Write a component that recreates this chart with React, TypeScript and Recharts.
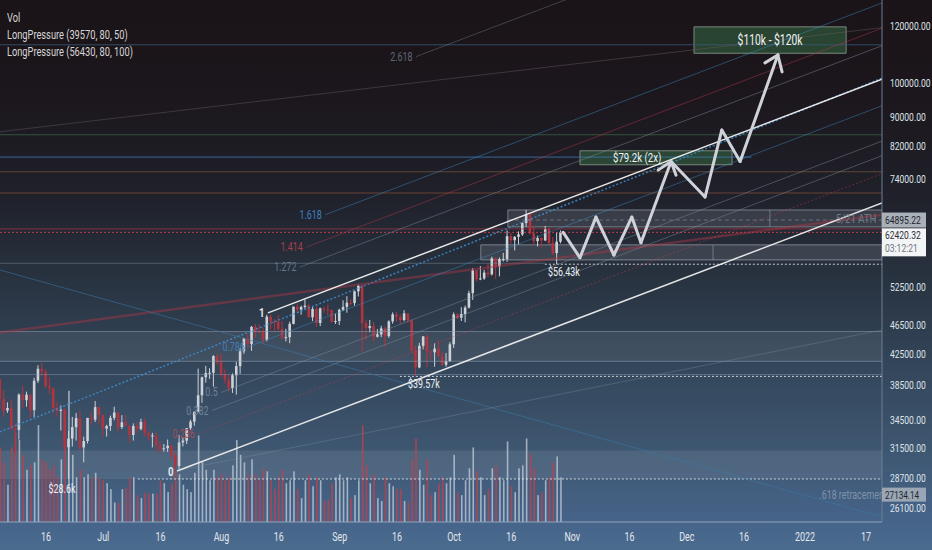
import React from 'react';
import { ComposedChart, Bar, XAxis, YAxis, ReferenceLine, ReferenceArea, ReferenceDot } from 'recharts';

const W = 932;
const H = 550;
const FONT = 'Roboto, "Noto Sans", "DejaVu Sans", sans-serif';
const SX = 0.74;

// day index counted from 2021-06-16; first candle is 2021-06-04
const FIRST_DAY = -12;

const opens = [
  39200, 36850, 35520, 35800, 33550, 33400, 37350, 36700, 37340, 35550, 39020, 40530, 40160, 38350, 38100, 35820, 35480, 35600, 31620, 32500, 33700, 34680, 31600, 32250, 34700, 34500, 35900,
  35040, 33540, 33820, 34700, 35300, 33700, 34220, 33860, 32870, 33810, 33510, 34250, 33100, 32720, 32820, 31780, 31420, 31520, 31780, 30840, 29800, 32110, 32290, 33590, 34290, 35380, 37270, 39460, 40000, 40020, 42200,
  41460, 39850, 39150, 38150, 39720, 40870, 42830, 44610, 43830, 46290, 45590, 45550, 44430, 47800, 47100, 47050, 45990, 44690, 44800, 46720, 49340, 48870, 49290, 49500, 47700, 48990, 46850, 49070, 48900, 48800, 47020,
  47150, 48850, 49300, 49950, 49900, 51800, 52700, 46850, 46100, 46400, 44850, 45200, 46060, 44950, 47100, 48150, 47770, 47300, 48300, 47250, 43000, 40700, 43580, 44900, 42840, 42700, 43200, 42200, 41050, 41520,
  43800, 48150, 47650, 48200, 49200, 51500, 55340, 53800, 53950, 54950, 54650, 57480, 56000, 57350, 57370, 61670, 60880, 61530, 62020, 64270, 66000, 62200, 60700, 61300, 60850, 63080, 60330, 58450, 60600,
];
const highs = [
  39300, 37900, 36450, 36800, 34070, 37500, 38400, 37700, 37450, 39400, 41000, 41300, 40500, 39500, 38200, 36450, 36100, 35750, 33300, 34800, 35250, 35500, 32700, 34700, 35300, 36600, 36000,
  35040, 33950, 34950, 35950, 35300, 35000, 35050, 33900, 34100, 34250, 34600, 34650, 33300, 33100, 33150, 32250, 31950, 32400, 31900, 31050, 32850, 32600, 33600, 34500, 35400, 40550, 39550, 40900, 40600, 42300, 42400,
  42550, 40450, 39750, 39950, 41400, 43300, 44700, 45300, 46400, 46700, 46700, 46200, 48100, 48150, 47400, 48050, 47150, 46000, 47050, 49350, 49800, 49500, 50500, 49800, 49300, 49350, 49200, 49300, 49650, 48900, 48250,
  49000, 50350, 51000, 50550, 51900, 52900, 52900, 47400, 47300, 47000, 45950, 46450, 46350, 47250, 48450, 48500, 48150, 48800, 48350, 47350, 43600, 44000, 44950, 45200, 42950, 43950, 44350, 42750, 42600, 44100,
  48450, 48350, 49250, 49500, 51900, 55750, 55400, 56100, 55450, 56500, 57800, 57600, 57650, 58500, 62800, 62300, 61700, 62600, 64450, 67000, 66600, 63700, 61750, 61500, 63700, 63300, 61500, 62500, 62800,
];
const lows = [
  35600, 34800, 35250, 33350, 31000, 32400, 35800, 35950, 34650, 34800, 38750, 39500, 38100, 37400, 35200, 34800, 33350, 31300, 28600, 31700, 32300, 31300, 30150, 32000, 33900, 34250, 34000,
  32700, 32700, 33300, 34450, 33150, 33500, 33800, 32100, 32300, 33000, 33350, 32700, 32250, 31600, 31200, 31050, 31200, 31150, 30400, 29300, 29500, 31700, 31950, 33400, 33850, 35300, 36400, 38800, 39250, 38300, 41000,
  39450, 38700, 37700, 37550, 37350, 39900, 42500, 43300, 42900, 44700, 45400, 43800, 44200, 45900, 45550, 45700, 44400, 44200, 43950, 46650, 48300, 48100, 49000, 47700, 47150, 46300, 46400, 48400, 48000, 46900, 46700,
  46550, 48650, 48400, 49500, 49500, 50950, 42800, 44400, 45500, 44200, 44750, 44800, 43450, 44700, 46750, 47050, 46750, 47100, 46850, 42600, 39570, 40600, 43100, 40700, 41750, 40800, 42100, 40900, 40800, 41450,
  43300, 47450, 47150, 46950, 49050, 50400, 53400, 53650, 53700, 54100, 54450, 53900, 54300, 56900, 56850, 60200, 58950, 60100, 61700, 63500, 62000, 60000, 59700, 59500, 60700, 60100, 58100, 56430, 60300,
];
const closes = [
  36850, 35520, 35800, 33550, 33400, 37350, 36700, 37340, 35550, 39020, 40530, 40160, 38350, 38100, 35820, 35480, 35600, 31620, 32500, 33700, 34680, 31600, 32250, 34700, 34500, 35900, 35040,
  33540, 33820, 34700, 35300, 33700, 34220, 33860, 32870, 33810, 33510, 34250, 33100, 32720, 32820, 31780, 31420, 31520, 31780, 30840, 29800, 32110, 32290, 33590, 34290, 35380, 37270, 39460, 40000, 40020, 42200, 41460,
  39850, 39150, 38150, 39720, 40870, 42830, 44610, 43830, 46290, 45590, 45550, 44430, 47800, 47100, 47050, 45990, 44690, 44800, 46720, 49340, 48870, 49290, 49500, 47700, 48990, 46850, 49070, 48900, 48800, 47020, 47150,
  48850, 49300, 49950, 49900, 51800, 52700, 46850, 46100, 46400, 44850, 45200, 46060, 44950, 47100, 48150, 47770, 47300, 48300, 47250, 43000, 40700, 43580, 44900, 42840, 42700, 43200, 42200, 41050, 41520, 43800,
  48150, 47650, 48200, 49200, 51500, 55340, 53800, 53950, 54950, 54650, 57480, 56000, 57350, 57370, 61670, 60880, 61530, 62020, 64270, 66000, 62200, 60700, 61300, 60850, 63080, 60330, 58450, 60600, 62420,
];
const volumes = [
  50, 40, 25, 50, 60, 55, 45, 35, 38, 40, 65, 42, 40, 35, 38, 30, 42, 50, 88, 45, 30, 35, 30, 32, 30, 33, 30,
  28, 26, 22, 13, 13, 22, 23, 30, 30, 18, 16, 20, 19, 19, 19, 28, 26, 20, 26, 34, 32, 25, 22, 20, 33, 58, 40, 35, 28, 35, 30,
  32, 28, 30, 38, 55, 45, 40, 32, 42, 32, 28, 36, 34, 28, 22, 30, 35, 26, 28, 34, 22, 16, 28, 32, 24, 30, 28, 14, 15, 26, 30,
  32, 28, 30, 16, 18, 28, 65, 38, 26, 32, 16, 14, 30, 26, 24, 22, 22, 14, 13, 42, 56, 35, 25, 42, 18, 20, 26, 30, 26, 30,
  45, 20, 18, 28, 36, 50, 34, 30, 18, 22, 36, 38, 30, 28, 54, 24, 20, 36, 38, 56, 46, 36, 18, 20, 28, 30, 40, 44, 30,
];

const xTickDays = [0, 15, 30, 46, 61, 77, 92, 107, 122, 138, 153, 168, 183, 199, 215];
const xTickLabels = ['16', 'Jul', '16', 'Aug', '16', 'Sep', '16', 'Oct', '16', 'Nov', '16', 'Dec', '16', '2022', '17'];
const priceTicks = [120000, 100000, 90000, 82000, 74000, 52500, 46500, 42500, 38500, 34500, 31500, 28700, 26100];

const X_DOMAIN: [number, number] = [-12.06, 219.2];
const P_DOMAIN: [number, number] = [24960, 130200];
const V_DOMAIN: [number, number] = [0, 350];

// parallel channel (0 line through the Jul 20 low, 1 line through the Aug 13 high)
const channel = { d0: 34.35, p0: 29330, slope: 0.00459, width: 0.391 };
const fibLevels = [0, 0.236, 0.382, 0.5, 0.786, 1, 1.272, 1.414, 1.618, 2.618];
const fibStarts = [34.35, 39.9, 43.5, 45.9, 53.0, 58.2, 66.6, 68.2, 73.2, 97.0];
const fibLabels = ['0', '0.236', '0.382', '0.5', '0.786', '1', '1.272', '1.414', '1.618', '2.618'];
const fibColors = ['#eeeeee', '#c0404c', '#7d8ea2', '#7d8ea2', '#3f8fc4', '#f2f2f2', '#7d8ea2', '#b83a4a', '#3a8fc8', '#6f7d8e'];
const fibLabelColors = ['#e6e6e6', '#a84c58', '#6f8196', '#6f8196', '#3f7fb8', '#e6e6e6', '#66768a', '#a8404c', '#3d80c2', '#5d6876'];

// horizontal levels: price, colour, end day, opacity
const hPrices = [113000, 85000, 79200, 75600, 70700, 63100, 56600, 45600, 41500, 39800];
const hColors = ['#3a5a78', '#3f7a4c', '#3d7cb4', '#7a5640', '#9a5c3a', '#a8384a', '#8a96a4', '#8fa0b4', '#8fa0b4', '#8fa0b4'];
const hEnds = [219.2, 219.2, 185, 219.2, 219.2, 219.2, 130.8, 219.2, 219.2, 219.2];
const hOpacity = [0.8, 0.6, 0.8, 0.7, 0.6, 0.7, 0.45, 0.55, 0.55, 0.45];

// dotted swing-low levels
const lowPrices = [56430, 39570, 28600];
const lowStarts = [130.8, 92.8, 24.1];
const lowLabels = ['$56.43k', '$39.57k', '$28.6k'];
const lowLabelDays = [135.8, 99.1, 4.2];
const lowLabelPrices = [55100, 38620, 27710];

const CURRENT = 62420.32;
const ATH = 64895.22;
const RETRACE = 27134.14;

// projected path
const pathDays = [135.6, 140.0, 144.2, 148.9, 153.6, 156.0, 163.9, 172.8, 177.2, 182.0, 191.9];
const pathPrices = [62420, 57600, 65500, 58100, 65500, 60400, 78100, 69800, 86300, 78100, 109400];
const arrowTips = [[163.9, 78100], [191.9, 109400]];
const arrowWingsA = [[160.5, 76000], [188.5, 106700]];
const arrowWingsB = [[165.2, 74800], [193.0, 103700]];

// extra trend lines [d1, p1, d2, p2]
const extraLines = [
  [-12.06, 33200, 219.2, 101700],
  [-12.06, 45460, 219.2, 66000],
  [-12.06, 85800, 219.2, 119300],
  [-12.06, 55400, 219.2, 25360],
  [35.1, 29420, 219.2, 45830],
];
const extraColors = ['#3d8fd0', '#a83848', '#6a5a66', '#3d78a8', '#7d8ea2'];
const extraWidths = [1.5, 2.5, 1, 1, 1];
const extraDash = ['2 2', '', '', '', ''];
const extraOpacity = [0.85, 0.45, 0.45, 0.55, 0.35];

const data = opens.map((o, i) => ({
  day: FIRST_DAY + i,
  o,
  h: highs[i],
  l: lows[i],
  c: closes[i],
  range: [lows[i], highs[i]],
  vol: volumes[i],
}));

const fibPrice = (L: number, d: number) =>
  Math.exp(Math.log(channel.p0) + channel.slope * (d - channel.d0) + L * channel.width);

const UP = '#cdd2d9';
const DOWN = '#b3343f';

function SText(props: any) {
  const { x, y, children, size = 11, fill = '#ddd', anchor = 'start', weight = 400, opacity = 1 } = props;
  return (
    <text
      x={0}
      y={0}
      transform={`translate(${x},${y}) scale(${SX},1)`}
      fontSize={size}
      fill={fill}
      textAnchor={anchor}
      dominantBaseline="central"
      fontFamily={FONT}
      fontWeight={weight}
      opacity={opacity}
    >
      {children}
    </text>
  );
}

const CandleShape = (props: any) => {
  const { x, y, width, height, payload } = props;
  if (payload == null || x == null || y == null) return null;
  const top = Math.min(y, y + height);
  const hh = Math.abs(height);
  const lh = Math.log(payload.h);
  const ll = Math.log(payload.l);
  const px = (v: number) => (lh === ll ? top : top + (hh * (lh - Math.log(v))) / (lh - ll));
  const cx = x + width / 2;
  const up = payload.c >= payload.o;
  const col = up ? UP : DOWN;
  const bt = px(Math.max(payload.o, payload.c));
  const bb = px(Math.min(payload.o, payload.c));
  const bw = 2.6;
  return (
    <g>
      <line x1={cx} x2={cx} y1={top} y2={top + hh} stroke={col} strokeWidth={1} />
      <rect x={cx - bw / 2} y={bt} width={bw} height={Math.max(1, bb - bt)} fill={col} />
    </g>
  );
};

const VolShape = (props: any) => {
  const { x, y, width, height, payload } = props;
  if (payload == null || x == null) return null;
  const up = payload.c >= payload.o;
  const top = Math.min(y, y + height);
  const cx = x + width / 2;
  return <rect x={cx - 0.8} y={top} width={1.6} height={Math.abs(height)} fill={up ? '#c3ceda' : '#b8434f'} opacity={up ? 0.75 : 0.85} />;
};

const XTick = (props: any) => {
  const { x, y, payload } = props;
  const idx = xTickDays.indexOf(payload.value);
  return <SText x={x} y={y + 13} anchor="middle" size={12} fill="#e3e8ee">{xTickLabels[idx]}</SText>;
};

const YTick = (props: any) => {
  const { x, y, payload } = props;
  return <SText x={x + 6} y={y} size={11.5} fill="#dfe4ea">{Number(payload.value).toFixed(2)}</SText>;
};

const textDot = (d: number, p: number, text: string, opts: any, key: string) => (
  <ReferenceDot
    key={key}
    xAxisId="x"
    yAxisId="p"
    x={d}
    y={p}
    r={0}
    ifOverflow="visible"
    isFront
    shape={(pp: any) => <SText x={pp.cx} y={pp.cy} {...opts}>{text}</SText>}
  />
);

const seg = (d1: number, p1: number, d2: number, p2: number, key: string, style: any) => (
  <ReferenceLine
    key={key}
    xAxisId="x"
    yAxisId="p"
    segment={[{ x: d1, y: p1 }, { x: d2, y: p2 }]}
    ifOverflow="hidden"
    {...style}
  />
);

export default function App() {
  const xEnd = X_DOMAIN[1];
  return (
    <div
      style={{
        position: 'fixed',
        left: 0,
        top: 0,
        width: W,
        height: H,
        background: 'linear-gradient(180deg, #1a1317 0%, #1c171d 18%, #1f2029 35%, #28323f 50%, #334559 66%, #3e5771 82%, #46648a 95%, #4a6b8e 100%)',
        overflow: 'hidden',
      }}
    >
      <ComposedChart width={W} height={H} data={data} margin={{ top: 0, right: 0, bottom: 0, left: 0 }}>
        <XAxis
          xAxisId="x"
          type="number"
          dataKey="day"
          domain={X_DOMAIN}
          allowDataOverflow
          ticks={xTickDays}
          interval={0}
          tick={(p: any) => <XTick {...p} />}
          tickLine={false}
          tickSize={0}
          axisLine={{ stroke: '#8fa3b8' }}
          height={28}
        />
        <XAxis xAxisId="xv" type="number" dataKey="day" domain={X_DOMAIN} allowDataOverflow hide />
        <YAxis
          yAxisId="p"
          orientation="right"
          type="number"
          scale="log"
          domain={P_DOMAIN}
          allowDataOverflow
          ticks={priceTicks}
          interval={0}
          tick={(p: any) => <YTick {...p} />}
          tickLine={false}
          tickSize={0}
          axisLine={{ stroke: '#6c7f95' }}
          width={50}
        />
        <YAxis yAxisId="v" hide domain={V_DOMAIN} allowDataOverflow />

        {/* shaded bands */}
        <ReferenceArea xAxisId="x" yAxisId="p" x1={X_DOMAIN[0]} x2={xEnd} y1={41500} y2={45600} fill="#ffffff" fillOpacity={0.07} stroke="none" ifOverflow="hidden" />
        <ReferenceArea xAxisId="x" yAxisId="p" x1={X_DOMAIN[0]} x2={xEnd} y1={28600} y2={31300} fill="#ffffff" fillOpacity={0.08} stroke="none" ifOverflow="hidden" />

        {/* boxes near price */}
        <ReferenceArea xAxisId="x" yAxisId="p" x1={121.1} x2={xEnd} y1={63500} y2={67000} fill="#b4bcc8" fillOpacity={0.16} stroke="#a8b0bc" strokeOpacity={0.6} ifOverflow="hidden" />
        <ReferenceArea xAxisId="x" yAxisId="p" x1={114} x2={xEnd} y1={57200} y2={60000} fill="#b4bcc8" fillOpacity={0.16} stroke="#a8b0bc" strokeOpacity={0.6} ifOverflow="hidden" />
        {seg(189.8, 63500, 189.8, 67000, 'divA', { stroke: '#a8b0bc', strokeOpacity: 0.5 })}
        {seg(174.9, 57200, 174.9, 60000, 'divB', { stroke: '#a8b0bc', strokeOpacity: 0.5 })}
        {seg(121.1, ATH, xEnd, ATH, 'ath', { stroke: '#9aa4b0', strokeOpacity: 0.5, strokeDasharray: '4 3' })}

        {/* target boxes */}
        <ReferenceArea xAxisId="x" yAxisId="p" x1={140} x2={179.9} y1={77300} y2={80800} fill="#2c4a36" fillOpacity={0.92} stroke="#8d9c92" strokeOpacity={0.8} ifOverflow="hidden" />
        <ReferenceArea xAxisId="x" yAxisId="p" x1={169.9} x2={209.8} y1={110000} y2={119600} fill="#2a4933" fillOpacity={0.92} stroke="#8d9c92" strokeOpacity={0.8} ifOverflow="hidden" />

        {/* horizontal levels */}
        {hPrices.map((p, i) =>
          seg(X_DOMAIN[0], p, hEnds[i], p, `h${i}`, { stroke: hColors[i], strokeOpacity: hOpacity[i], strokeWidth: 1 })
        )}
        {lowPrices.map((p, i) =>
          seg(lowStarts[i], p, xEnd, p, `lo${i}`, { stroke: '#e8ecf0', strokeOpacity: 0.85, strokeDasharray: '2 2', strokeWidth: 1 })
        )}
        {seg(X_DOMAIN[0], CURRENT, xEnd, CURRENT, 'cur', { stroke: '#d0404f', strokeOpacity: 0.9, strokeDasharray: '2 2', strokeWidth: 1 })}

        {/* extra trend lines */}
        {extraLines.map((l, i) =>
          seg(l[0], l[1], l[2], l[3], `ex${i}`, {
            stroke: extraColors[i],
            strokeOpacity: extraOpacity[i],
            strokeWidth: extraWidths[i],
            strokeDasharray: extraDash[i] || undefined,
          })
        )}

        {/* fib channel */}
        {fibLevels.map((L, i) =>
          seg(fibStarts[i], fibPrice(L, fibStarts[i]), xEnd, fibPrice(L, xEnd), `fib${i}`, {
            stroke: fibColors[i],
            strokeOpacity: L === 0 || L === 1 ? 0.95 : 0.45,
            strokeWidth: L === 0 || L === 1 ? 1.5 : 1,
            strokeDasharray: L === 0.236 ? '2 2' : undefined,
          })
        )}

        <Bar xAxisId="xv" yAxisId="v" dataKey="vol" barSize={2} shape={VolShape} isAnimationActive={false} />
        <Bar xAxisId="x" yAxisId="p" dataKey="range" barSize={3} shape={CandleShape} isAnimationActive={false} />

        {/* projected path */}
        {pathDays.slice(1).map((d, i) =>
          seg(pathDays[i], pathPrices[i], d, pathPrices[i + 1], `pa${i}`, { stroke: '#cfd3d9', strokeWidth: 3, strokeLinecap: 'round' })
        )}
        {arrowTips.map((t, i) => seg(arrowWingsA[i][0], arrowWingsA[i][1], t[0], t[1], `awa${i}`, { stroke: '#cfd3d9', strokeWidth: 3, strokeLinecap: 'round' }))}
        {arrowTips.map((t, i) => seg(arrowWingsB[i][0], arrowWingsB[i][1], t[0], t[1], `awb${i}`, { stroke: '#cfd3d9', strokeWidth: 3, strokeLinecap: 'round' }))}

        {/* fib labels */}
        {fibLevels.map((L, i) =>
          textDot(fibStarts[i] - 0.9, fibPrice(L, fibStarts[i]), fibLabels[i], {
            anchor: 'end',
            size: L === 0 || L === 1 ? 13 : 12,
            fill: fibLabelColors[i],
            weight: L === 0 || L === 1 ? 700 : 400,
          }, `fl${i}`)
        )}

        {/* swing low labels */}
        {lowLabels.map((t, i) => textDot(lowLabelDays[i], lowLabelPrices[i], t, { anchor: 'middle', size: 12, fill: '#eef1f4' }, `ll${i}`))}

        {textDot(155, 79100, '$79.2k (2x)', { anchor: 'middle', size: 13, fill: '#f2f2f2' }, 'b1')}
        {textDot(189.85, 114700, '$110k - $120k', { anchor: 'middle', size: 14, fill: '#f2f2f2' }, 'b2')}
        {textDot(212.4, 65300, '5/21 ATH', { anchor: 'middle', size: 13, fill: '#6f7a88' }, 'ath')}
        {textDot(211.6, 27180, '.618 retracement', { anchor: 'middle', size: 12, fill: '#7f93a8' }, 'ret')}

        {/* price labels on the axis */}
        <ReferenceDot
          xAxisId="x"
          yAxisId="p"
          x={xEnd}
          y={ATH}
          r={0}
          ifOverflow="visible"
          isFront
          shape={(pp: any) => (
            <g>
              <rect x={pp.cx} y={pp.cy - 7.5} width={44} height={15} fill="#a9b0b8" />
              <SText x={pp.cx + 3} y={pp.cy} size={11.5} fill="#1e2630">{ATH.toFixed(2)}</SText>
            </g>
          )}
        />
        <ReferenceDot
          xAxisId="x"
          yAxisId="p"
          x={xEnd}
          y={CURRENT}
          r={0}
          ifOverflow="visible"
          isFront
          shape={(pp: any) => (
            <g>
              <rect x={pp.cx} y={pp.cy - 4} width={44} height={28} fill="#f3f4f6" />
              <SText x={pp.cx + 3} y={pp.cy + 2.5} size={11.5} fill="#2a2f36">{CURRENT.toFixed(2)}</SText>
              <SText x={pp.cx + 3} y={pp.cy + 16} size={11.5} fill="#6e7580">03:12:21</SText>
            </g>
          )}
        />
        <ReferenceDot
          xAxisId="x"
          yAxisId="p"
          x={xEnd}
          y={RETRACE}
          r={0}
          ifOverflow="visible"
          isFront
          shape={(pp: any) => (
            <g>
              <rect x={pp.cx} y={pp.cy - 8} width={44} height={14} fill="#9aa6b4" />
              <SText x={pp.cx + 3} y={pp.cy - 1} size={11} fill="#1e2630">{RETRACE.toFixed(2)}</SText>
            </g>
          )}
        />
      </ComposedChart>

      <div
        style={{
          position: 'absolute',
          left: 7,
          top: 9,
          fontFamily: FONT,
          fontSize: 12.5,
          lineHeight: '17px',
          color: '#d6d6d6',
          transform: `scaleX(${SX})`,
          transformOrigin: 'left top',
          whiteSpace: 'nowrap',
          pointerEvents: 'none',
        }}
      >
        <div>Vol</div>
        <div>LongPressure (39570, 80, 50)</div>
        <div>LongPressure (56430, 80, 100)</div>
      </div>
    </div>
  );
}
